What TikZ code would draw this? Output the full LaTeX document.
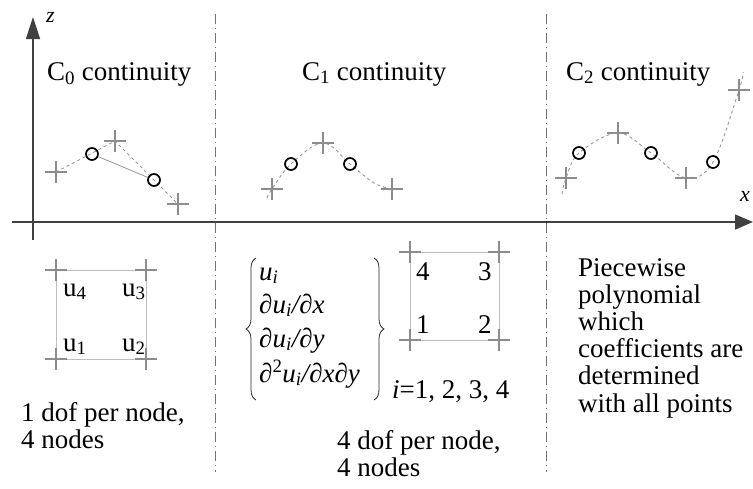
\documentclass[tikz,border=0pt]{standalone}
\usepackage{fontspec}
\setmainfont{Liberation Serif}
\usetikzlibrary{arrows.meta,decorations.pathreplacing}
\definecolor{crossgray}{RGB}{140,140,140}
\definecolor{guidegray}{RGB}{150,150,150}
\definecolor{elemgray}{RGB}{190,190,190}
\newcommand{\plusat}[2]{\coordinate (#1) at (#2);
  \draw[crossline] ([xshift=-11pt]#1) -- ([xshift=11pt]#1) ([yshift=-11pt]#1) -- ([yshift=11pt]#1);}
\begin{document}
\begin{tikzpicture}[x=1pt,y=-1pt,
  crossline/.style={draw=crossgray, line width=1.8pt},
  ring/.style={circle, draw=black, line width=1.7pt, minimum size=12pt, inner sep=0pt},
  guide/.style={draw=guidegray, line width=0.9pt, dash pattern=on 3pt off 3pt},
  link/.style={draw=guidegray, line width=0.8pt},
  divider/.style={draw=black!55, line width=0.6pt, dash pattern=on 10pt off 4pt on 1pt off 4pt},
  axis/.style={draw=black!75, line width=1.6pt},
  lbl/.style={font=\fontsize{27}{29}\selectfont, inner sep=0pt, anchor=base west},
  mth/.style={font=\fontsize{27}{29}\selectfont\itshape, inner sep=0pt, anchor=base west},
  curly/.style={draw=black!85, line width=0.8pt, decorate, decoration={brace, amplitude=10pt}},
  elem/.style={draw=elemgray, line width=0.9pt},
]
\useasboundingbox (0,0) rectangle (753,488);
% dividers
\coordinate (d1t) at (215,14); \coordinate (d1b) at (215,472);
\coordinate (d2t) at (546,14); \coordinate (d2b) at (546,472);
\draw[divider] (d1t) -- (d1b);
\draw[divider] (d2t) -- (d2b);
% axes
\coordinate (zb) at (33,240); \coordinate (zt) at (33,17);
\coordinate (xl) at (12,222); \coordinate (xr) at (753,222);
\draw[axis, -{Triangle[length=22pt,width=14pt]}] (zb) -- (zt);
\draw[axis, -{Triangle[length=18pt,width=15pt]}] (xl) -- (xr);
\node[lbl, font=\fontsize{22}{24}\selectfont\itshape] (zlab) at (46,22) {z};
\node[lbl, font=\fontsize{22}{24}\selectfont\itshape] (xlab) at (740,201) {x};
% titles
\node[lbl] (t0) at (47,80) {C\textsubscript{0} continuity};
\node[lbl] (t1) at (302,80) {C\textsubscript{1} continuity};
\node[lbl] (t2) at (566,80) {C\textsubscript{2} continuity};
% C0
\plusat{a1}{56,172} \plusat{a2}{115,141} \plusat{a3}{178,204}
\draw[guide] (a1) -- (a2) -- (a3);
\node[ring] (ca1) at (92,154) {};
\node[ring] (ca2) at (154,180) {};
\draw[link] (ca1) -- (ca2);
% C1
\plusat{b1}{272,189} \plusat{b2}{323,143} \plusat{b3}{392,189}
\coordinate (bs) at (267,198);
\draw[guide] plot[smooth, tension=0.6] coordinates {(bs) (b1) (291,164) (b2) (350,164) (374,183) (b3)};
\node[ring] (cb1) at (291,164) {};
\node[ring] (cb2) at (350,164) {};
% C2
\plusat{e1}{566,178} \plusat{e2}{618,133} \plusat{e3}{686,178} \plusat{e4}{739,90}
\coordinate (es) at (562,194); \coordinate (ee) at (743,72);
\draw[guide] plot[smooth, tension=0.6] coordinates {(es) (e1) (579,153) (e2) (651,153) (e3) (713,162) (e4) (ee)};
\node[ring] (ce1) at (579,153) {};
\node[ring] (ce2) at (651,153) {};
\node[ring] (ce3) at (713,162) {};
% left element
\coordinate (p1) at (56,359); \coordinate (p2) at (146,359);
\coordinate (p3) at (146,270); \coordinate (p4) at (56,270);
\draw[elem] (p1) -- (p2) -- (p3) -- (p4) -- cycle;
\plusat{q1}{56,359} \plusat{q2}{146,359} \plusat{q3}{146,270} \plusat{q4}{56,270}
\node[lbl] (u4) at (63,296) {u\textsubscript{4}};
\node[lbl] (u3) at (122,296) {u\textsubscript{3}};
\node[lbl] (u1) at (63,351) {u\textsubscript{1}};
\node[lbl] (u2) at (122,351) {u\textsubscript{2}};
\node[lbl] (n0a) at (21,421) {1 dof per node,};
\node[lbl] (n0b) at (21,448) {4 nodes};
% middle element
\coordinate (r1) at (410,340); \coordinate (r2) at (499,340);
\coordinate (r3) at (499,252); \coordinate (r4) at (410,252);
\draw[elem] (r1) -- (r2) -- (r3) -- (r4) -- cycle;
\plusat{s1}{410,340} \plusat{s2}{499,340} \plusat{s3}{499,252} \plusat{s4}{410,252}
\node[lbl] (k4) at (416,280) {4};
\node[lbl] (k3) at (478,280) {3};
\node[lbl] (k1) at (416,333) {1};
\node[lbl] (k2) at (478,333) {2};
% dof set
\coordinate (lbb) at (256,400); \coordinate (lbt) at (256,258);
\coordinate (rbt) at (374,258); \coordinate (rbb) at (374,400);
\draw[curly] (lbb) -- (lbt);
\draw[curly] (rbt) -- (rbb);
\node[mth] (v1) at (259,280) {u\textsubscript{i}};
\node[mth] (v2) at (259,313) {∂u\textsubscript{i}/∂x};
\node[mth] (v3) at (259,347) {∂u\textsubscript{i}/∂y};
\node[mth] (v4) at (259,382) {∂\textsuperscript{\upshape 2}u\textsubscript{i}/∂x∂y};
\node[lbl] (irange) at (392,398) {\textit{i}=1, 2, 3, 4};
\node[lbl] (n1a) at (337,449) {4 dof per node,};
\node[lbl] (n1b) at (337,476) {4 nodes};
% right text
\node[inner sep=0pt, anchor=north west, align=left, font=\fontsize{27}{27.2}\selectfont] (ptxt) at (578,258)
  {Piecewise\\ polynomial\\ which\\ coefficients are\\ determined\\ with all points};
\end{tikzpicture}
\end{document}
